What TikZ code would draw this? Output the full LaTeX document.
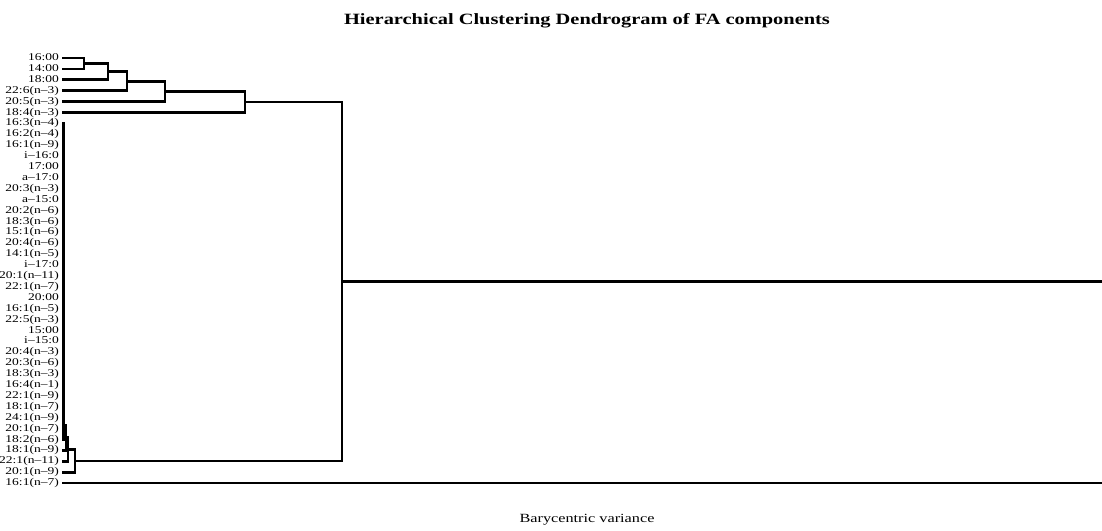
\documentclass[tikz,border=0pt]{standalone}
\usepackage{fontspec}
\setmainfont{Liberation Serif}
\usetikzlibrary{calc}

\newcommand{\wide}[1]{\scalebox{1.3}[1]{#1}}

\tikzset{
  leaf/.style={anchor=east, inner sep=0pt, text height=7pt, text depth=2pt, font=\fontsize{10.4}{10}\selectfont},
  link/.style={line width=2.7pt, line join=miter},
}

\begin{document}
\begin{tikzpicture}[x=1pt, y=-1pt]
\useasboundingbox (0,0) rectangle (1102,530);

% title and axis label
\node[font=\bfseries\fontsize{15.7}{16}\selectfont] (title) at (587,21) {\wide{Hierarchical Clustering Dendrogram of FA components}};
\node[font=\fontsize{12.5}{13}\selectfont] (xlab) at (587,520) {\wide{Barycentric variance}};

% leaf labels
\node[leaf] (l1) at (59,58.0) {\wide{16:00}};
\node[leaf] (l2) at (59,68.9) {\wide{14:00}};
\node[leaf] (l3) at (59,79.8) {\wide{18:00}};
\node[leaf] (l4) at (59,90.7) {\wide{22:6(n--3)}};
\node[leaf] (l5) at (59,101.6) {\wide{20:5(n--3)}};
\node[leaf] (l6) at (59,112.5) {\wide{18:4(n--3)}};
\node[leaf] (l7) at (59,123.4) {\wide{16:3(n--4)}};
\node[leaf] (l8) at (59,134.3) {\wide{16:2(n--4)}};
\node[leaf] (l9) at (59,145.2) {\wide{16:1(n--9)}};
\node[leaf] (l10) at (59,156.1) {\wide{i--16:0}};
\node[leaf] (l11) at (59,167.0) {\wide{17:00}};
\node[leaf] (l12) at (59,177.9) {\wide{a--17:0}};
\node[leaf] (l13) at (59,188.8) {\wide{20:3(n--3)}};
\node[leaf] (l14) at (59,199.7) {\wide{a--15:0}};
\node[leaf] (l15) at (59,210.6) {\wide{20:2(n--6)}};
\node[leaf] (l16) at (59,221.5) {\wide{18:3(n--6)}};
\node[leaf] (l17) at (59,232.4) {\wide{15:1(n--6)}};
\node[leaf] (l18) at (59,243.3) {\wide{20:4(n--6)}};
\node[leaf] (l19) at (59,254.2) {\wide{14:1(n--5)}};
\node[leaf] (l20) at (59,265.1) {\wide{i--17:0}};
\node[leaf] (l21) at (59,276.0) {\wide{20:1(n--11)}};
\node[leaf] (l22) at (59,286.9) {\wide{22:1(n--7)}};
\node[leaf] (l23) at (59,297.8) {\wide{20:00}};
\node[leaf] (l24) at (59,308.7) {\wide{16:1(n--5)}};
\node[leaf] (l25) at (59,319.6) {\wide{22:5(n--3)}};
\node[leaf] (l26) at (59,330.5) {\wide{15:00}};
\node[leaf] (l27) at (59,341.4) {\wide{i--15:0}};
\node[leaf] (l28) at (59,352.3) {\wide{20:4(n--3)}};
\node[leaf] (l29) at (59,363.2) {\wide{20:3(n--6)}};
\node[leaf] (l30) at (59,374.1) {\wide{18:3(n--3)}};
\node[leaf] (l31) at (59,385.0) {\wide{16:4(n--1)}};
\node[leaf] (l32) at (59,395.9) {\wide{22:1(n--9)}};
\node[leaf] (l33) at (59,406.8) {\wide{18:1(n--7)}};
\node[leaf] (l34) at (59,417.7) {\wide{24:1(n--9)}};
\node[leaf] (l35) at (59,428.6) {\wide{20:1(n--7)}};
\node[leaf] (l36) at (59,439.5) {\wide{18:2(n--6)}};
\node[leaf] (l37) at (59,450.4) {\wide{18:1(n--9)}};
\node[leaf] (l38) at (59,461.3) {\wide{22:1(n--11)}};
\node[leaf] (l39) at (59,472.2) {\wide{20:1(n--9)}};
\node[leaf] (l40) at (59,483.1) {\wide{16:1(n--7)}};

% merge points
\coordinate (m1) at (84,63.4);
\coordinate (m2) at (108,71.6);
\coordinate (m3) at (127,81.2);
\coordinate (m4) at (165,91.4);
\coordinate (m5) at (245,102.0);
\coordinate (c1) at (63.5,425.0);
\coordinate (c2) at (66,437.7);
\coordinate (c3) at (68,449.5);
\coordinate (c4) at (75,460.9);
\coordinate (m6) at (342,281.4);
\coordinate (r1) at (1106,281.4);
\coordinate (r2) at (1106,483.1);

% upper branch
\draw[link] ([xshift=3pt]l1.east) -| (m1) |- ([xshift=3pt]l2.east);
\draw[link] (m1) -| (m2) |- ([xshift=3pt]l3.east);
\draw[link] (m2) -| (m3) |- ([xshift=3pt]l4.east);
\draw[link] (m3) -| (m4) |- ([xshift=3pt]l5.east);
\draw[link] (m4) -| (m5) |- ([xshift=3pt]l6.east);

% lower branch
\draw[link] ([xshift=3pt]l7.east) -| (c1) |- ([xshift=3pt]l36.east);
\draw[link] (c1) -| (c2) |- ([xshift=3pt]l37.east);
\draw[link] (c2) -| (c3) |- ([xshift=3pt]l38.east);
\draw[link] (c3) -| (c4) |- ([xshift=3pt]l39.east);

% top joins
\draw[link] (m5) -| (m6) |- (c4);
\draw[link] (m6) -- (r1);
\draw[link] ([xshift=3pt]l40.east) -- (r2);
\end{tikzpicture}
\end{document}
